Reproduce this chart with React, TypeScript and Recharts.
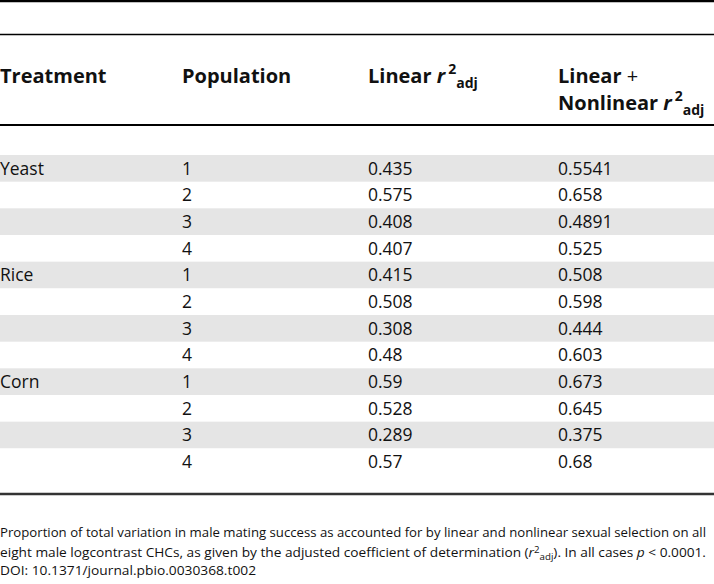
import { BarChart, Bar, XAxis, YAxis, Customized } from 'recharts'

const treatments = ['Yeast', 'Rice', 'Corn']
const populations = ['1', '2', '3', '4']
const linearR2 = [0.435, 0.575, 0.408, 0.407, 0.415, 0.508, 0.308, 0.48, 0.59, 0.528, 0.289, 0.57]
const nonlinearR2 = [0.5541, 0.658, 0.4891, 0.525, 0.508, 0.598, 0.444, 0.603, 0.673, 0.645, 0.375, 0.68]

const rows = linearR2.map((v, i) => ({
  id: `r${i}`,
  treatment: i % populations.length === 0 ? treatments[Math.floor(i / populations.length)] : '',
  population: populations[i % populations.length],
  linear: v,
  both: nonlinearR2[i],
}))

const W = 714
const H = 584
const COLS = [0, 182, 368, 558]
const FONT = '"Open Sans", "Noto Sans", sans-serif'
const INK = '#111'

function RowCells(props: any) {
  const { y, height, payload, index } = props
  const cy = y + height / 2 + 6
  const cells = [payload.treatment, payload.population, String(payload.linear), String(payload.both)]
  return (
    <g>
      <rect x={0} y={y} width={W} height={height} fill={index % 2 === 0 ? '#e5e5e5' : '#fff'} />
      {cells.map((c, k) => (
        <text key={k} x={COLS[k]} y={cy} fontSize={17.5} fontFamily={FONT} fill={INK}>{c}</text>
      ))}
    </g>
  )
}

function R2adj() {
  return (
    <>
      <tspan fontStyle="italic">r</tspan>
      <tspan dx={3} dy={-9} fontSize={14}>2</tspan>
      <tspan dy={14} fontSize={14}>adj</tspan>
    </>
  )
}

function Frame() {
  const hdr = { fontSize: 20, fontWeight: 700, fontFamily: FONT, fill: INK }
  const cap = { fontSize: 12, fontFamily: FONT, fill: INK }
  return (
    <g>
      <line x1={0} x2={W} y1={1} y2={1} stroke="#000" strokeWidth={2.5} />
      <line x1={0} x2={W} y1={34.5} y2={34.5} stroke="#000" strokeWidth={1.6} />
      <line x1={0} x2={W} y1={125} y2={125} stroke="#000" strokeWidth={2.2} />
      <line x1={0} x2={W} y1={494} y2={494} stroke="#333" strokeWidth={2.4} />
      <text x={COLS[0]} y={83} {...hdr}>Treatment</text>
      <text x={COLS[1]} y={83} {...hdr}>Population</text>
      <text x={COLS[2]} y={83} {...hdr}>Linear <R2adj /></text>
      <text x={COLS[3]} y={83} {...hdr}>Linear <tspan fontWeight={400}>+</tspan></text>
      <text x={COLS[3]} y={110} {...hdr}>Nonlinear <R2adj /></text>
      <text x={0} y={537} {...cap} textLength={706} lengthAdjust="spacingAndGlyphs">
        Proportion of total variation in male mating success as accounted for by linear and nonlinear sexual selection on all
      </text>
      <text x={0} y={557} {...cap} textLength={706} lengthAdjust="spacingAndGlyphs">
        eight male logcontrast CHCs, as given by the adjusted coefficient of determination (<tspan fontStyle="italic">r</tspan>
        <tspan dy={-4} fontSize={8.5}>2</tspan><tspan dy={7} fontSize={8.5}>adj</tspan><tspan dy={-3}>). In all cases </tspan>
        <tspan fontStyle="italic">p</tspan> &lt; 0.0001.
      </text>
      <text x={0} y={575} {...cap} textLength={256} lengthAdjust="spacingAndGlyphs">
        DOI: 10.1371/journal.pbio.0030368.t002
      </text>
    </g>
  )
}

export default function App() {
  return (
    <div style={{ width: W, height: H, background: '#fff' }}>
      <style>{'body{margin:0}'}</style>
      <BarChart
        width={W}
        height={H}
        data={rows}
        layout="vertical"
        margin={{ top: 155, right: 0, bottom: 109, left: 0 }}
        barCategoryGap={0}
      >
        <XAxis type="number" domain={[0, 1]} hide />
        <YAxis type="category" dataKey="id" hide />
        <Bar dataKey="linear" shape={<RowCells />} isAnimationActive={false} />
        <Customized component={Frame} />
      </BarChart>
    </div>
  )
}
